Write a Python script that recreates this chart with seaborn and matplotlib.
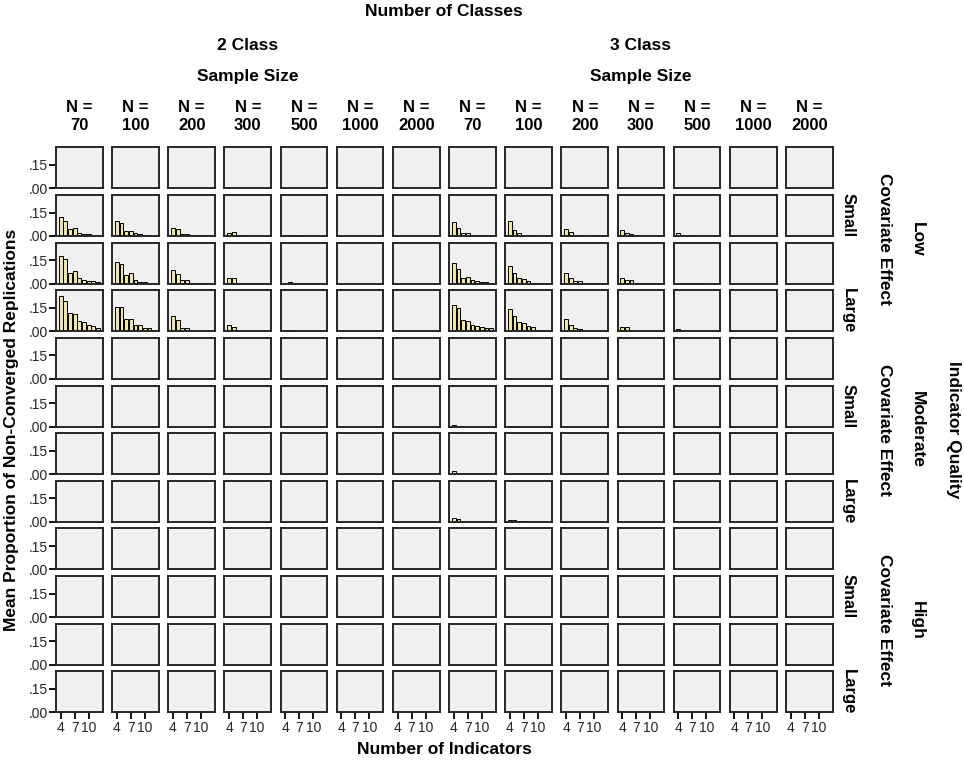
import matplotlib
matplotlib.use("Agg")
import matplotlib.pyplot as plt
import pandas as pd
import seaborn as sns

# ---------------- data ----------------
indicators = [4, 5, 6, 7, 8, 9, 10, 11, 12]
x_tick_values = [4, 7, 10]
x_tick_labels = ["4", "7", "10"]
y_tick_values = [0.0, 0.15]
y_tick_labels = [".00", ".15"]
sample_sizes = [70, 100, 200, 300, 500, 1000, 2000]
class_levels = ["2 Class", "3 Class"]
quality_levels = ["Low", "Moderate", "High"]
effect_levels = ["None", "Small", "Medium", "Large"]

# values per sample size (indicators 4..12); sample sizes not listed are 0
low_none_3class = {
    200: [0.003, 0.004, 0.002, 0.002, 0.001, 0.001, 0.0, 0.0, 0.0],
    300: [0.004, 0.003, 0.002, 0.001, 0.001, 0.0, 0.0, 0.0, 0.0],
    500: [0.004, 0.005, 0.003, 0.001, 0.001, 0.0, 0.0, 0.0, 0.0],
}
low_small_2class = {
    70: [0.120, 0.098, 0.043, 0.048, 0.020, 0.012, 0.010, 0.008, 0.005],
    100: [0.093, 0.080, 0.030, 0.030, 0.020, 0.010, 0.005, 0.003, 0.002],
    200: [0.054, 0.045, 0.012, 0.012, 0.003, 0.002, 0.002, 0.003, 0.002],
    300: [0.022, 0.028, 0.004, 0.008, 0.002, 0.001, 0.001, 0.001, 0.001],
    500: [0.006, 0.006, 0.003, 0.002, 0.001, 0.0, 0.0, 0.0, 0.0],
}
low_small_3class = {
    70: [0.089, 0.054, 0.022, 0.020, 0.008, 0.004, 0.003, 0.002, 0.002],
    100: [0.098, 0.037, 0.020, 0.008, 0.004, 0.003, 0.002, 0.002, 0.001],
    200: [0.043, 0.026, 0.008, 0.005, 0.002, 0.002, 0.001, 0.003, 0.001],
    300: [0.037, 0.020, 0.012, 0.006, 0.002, 0.002, 0.001, 0.001, 0.001],
    500: [0.017, 0.006, 0.003, 0.002, 0.001, 0.001, 0.0, 0.0, 0.0],
    1000: [0.002, 0.002, 0.001, 0.0, 0.0, 0.0, 0.0, 0.0, 0.0],
}
low_medium_2class = {
    70: [0.176, 0.157, 0.067, 0.083, 0.037, 0.024, 0.015, 0.015, 0.010],
    100: [0.137, 0.124, 0.054, 0.070, 0.024, 0.013, 0.008, 0.005, 0.004],
    200: [0.087, 0.060, 0.024, 0.024, 0.003, 0.003, 0.002, 0.002, 0.002],
    300: [0.039, 0.035, 0.005, 0.003, 0.003, 0.002, 0.002, 0.002, 0.002],
    500: [0.005, 0.008, 0.002, 0.002, 0.001, 0.001, 0.001, 0.001, 0.001],
}
low_medium_3class = {
    70: [0.132, 0.091, 0.039, 0.043, 0.022, 0.017, 0.012, 0.008, 0.006],
    100: [0.110, 0.067, 0.039, 0.028, 0.017, 0.005, 0.003, 0.002, 0.002],
    200: [0.067, 0.039, 0.017, 0.017, 0.003, 0.003, 0.002, 0.002, 0.002],
    300: [0.039, 0.024, 0.022, 0.002, 0.002, 0.001, 0.001, 0.001, 0.001],
    500: [0.005, 0.004, 0.002, 0.001, 0.001, 0.0, 0.0, 0.0, 0.0],
}
low_large_2class = {
    70: [0.228, 0.193, 0.120, 0.113, 0.065, 0.056, 0.039, 0.033, 0.022],
    100: [0.158, 0.156, 0.076, 0.076, 0.043, 0.039, 0.020, 0.018, 0.007],
    200: [0.100, 0.070, 0.022, 0.022, 0.003, 0.003, 0.002, 0.002, 0.002],
    300: [0.043, 0.030, 0.002, 0.002, 0.001, 0.001, 0.001, 0.001, 0.001],
    500: [0.008, 0.010, 0.002, 0.001, 0.001, 0.001, 0.0, 0.0, 0.0],
}
low_large_3class = {
    70: [0.165, 0.150, 0.074, 0.065, 0.039, 0.033, 0.028, 0.022, 0.022],
    100: [0.141, 0.100, 0.059, 0.050, 0.033, 0.028, 0.010, 0.005, 0.003],
    200: [0.080, 0.037, 0.020, 0.015, 0.003, 0.003, 0.002, 0.002, 0.002],
    300: [0.028, 0.028, 0.008, 0.002, 0.001, 0.001, 0.001, 0.001, 0.001],
    500: [0.017, 0.002, 0.001, 0.001, 0.0, 0.0, 0.0, 0.0, 0.0],
}
moderate_small_3class = {
    70: [0.012, 0.002, 0.001, 0.0, 0.0, 0.0, 0.0, 0.0, 0.0],
    100: [0.004, 0.001, 0.0, 0.0, 0.0, 0.0, 0.0, 0.0, 0.0],
}
moderate_medium_3class = {
    70: [0.020, 0.006, 0.002, 0.001, 0.0, 0.0, 0.0, 0.0, 0.0],
    100: [0.004, 0.001, 0.0, 0.0, 0.0, 0.0, 0.0, 0.0, 0.0],
}
moderate_large_3class = {
    70: [0.025, 0.020, 0.004, 0.001, 0.0, 0.0, 0.0, 0.0, 0.0],
    100: [0.012, 0.012, 0.008, 0.002, 0.0, 0.0, 0.0, 0.0, 0.0],
}

panel_values = {
    ("Low", "None", "3 Class"): low_none_3class,
    ("Low", "Small", "2 Class"): low_small_2class,
    ("Low", "Small", "3 Class"): low_small_3class,
    ("Low", "Medium", "2 Class"): low_medium_2class,
    ("Low", "Medium", "3 Class"): low_medium_3class,
    ("Low", "Large", "2 Class"): low_large_2class,
    ("Low", "Large", "3 Class"): low_large_3class,
    ("Moderate", "Small", "3 Class"): moderate_small_3class,
    ("Moderate", "Medium", "3 Class"): moderate_medium_3class,
    ("Moderate", "Large", "3 Class"): moderate_large_3class,
}

records = []
for q in quality_levels:
    for e in effect_levels:
        for c in class_levels:
            d = panel_values.get((q, e, c), {})
            for n in sample_sizes:
                vals = d.get(n, [0.0] * len(indicators))
                for ind, v in zip(indicators, vals):
                    records.append(dict(quality=q, effect=e, classes=c, n=n,
                                        indicators=ind, value=v))
df = pd.DataFrame(records)

# ---------------- style ----------------
sns.set_theme(style="white")
plt.rcParams["font.family"] = ["Liberation Sans", "DejaVu Sans"]
plt.rcParams["text.color"] = "black"

W, H = 964, 765
fig = plt.figure(figsize=(W / 100, H / 100), dpi=100)
fig.patch.set_facecolor("white")

def fx(px):
    return px / W

def fy(py):
    return 1 - py / H

col_left0, col_pitch, pan_w = 56.0, 56.15, 46.7
row_top0, row_pitch, pan_h = 147.3, 47.64, 41.0

bar_color = "#EEE6A8"
frame_color = "#262626"
face_color = "#F0F0F0"

TITLE_FS = 12.5
HEAD_FS = 12
TICK_FS = 10

n_rows = len(quality_levels) * len(effect_levels)
n_cols = len(class_levels) * len(sample_sizes)

for qi, q in enumerate(quality_levels):
    for ei, e in enumerate(effect_levels):
        r = qi * len(effect_levels) + ei
        for ci, c in enumerate(class_levels):
            for ni, n in enumerate(sample_sizes):
                col = ci * len(sample_sizes) + ni
                left = col_left0 + col * col_pitch
                top = row_top0 + r * row_pitch
                ax = fig.add_axes([fx(left), fy(top + pan_h), pan_w / W, pan_h / H])
                sub = df[(df.quality == q) & (df.effect == e) &
                         (df.classes == c) & (df.n == n)]
                sns.barplot(data=sub, x="indicators", y="value", native_scale=True,
                            color=bar_color, saturation=1, width=0.8,
                            edgecolor="black", linewidth=0.7, errorbar=None, ax=ax)
                ax.set_facecolor(face_color)
                ax.set_xlim(3, 13)
                ax.set_ylim(0, 0.263)
                ax.set_xlabel("")
                ax.set_ylabel("")
                for s in ax.spines.values():
                    s.set_visible(True)
                    s.set_color(frame_color)
                    s.set_linewidth(1.4)
                if col == 0:
                    ax.set_yticks(y_tick_values)
                    ax.set_yticklabels(y_tick_labels, fontsize=TICK_FS)
                    ax.tick_params(axis="y", left=True, length=5, width=1.3,
                                   direction="out", pad=0.5, color="black")
                else:
                    ax.set_yticks([])
                if r == n_rows - 1:
                    ax.set_xticks(x_tick_values)
                    ax.set_xticklabels(x_tick_labels, fontsize=TICK_FS)
                    ax.tick_params(axis="x", bottom=True, length=5, width=1.3,
                                   direction="out", pad=1.5, color="black")
                else:
                    ax.set_xticks([])

# ---------------- header texts ----------------
bold = dict(fontweight="bold", color="black")
grid_cx = (col_left0 + (col_left0 + (n_cols - 1) * col_pitch + pan_w)) / 2
fig.text(fx(grid_cx), fy(12), "Number of Classes", ha="center", va="center",
         fontsize=TITLE_FS, **bold)
for ci, c in enumerate(class_levels):
    l = col_left0 + ci * len(sample_sizes) * col_pitch
    rgt = col_left0 + ((ci + 1) * len(sample_sizes) - 1) * col_pitch + pan_w
    cx = (l + rgt) / 2
    fig.text(fx(cx), fy(46), c, ha="center", va="center", fontsize=TITLE_FS, **bold)
    fig.text(fx(cx), fy(77), "Sample Size", ha="center", va="center",
             fontsize=TITLE_FS, **bold)
    for ni, n in enumerate(sample_sizes):
        col = ci * len(sample_sizes) + ni
        x = col_left0 + col * col_pitch + pan_w / 2
        fig.text(fx(x), fy(108), "N =", ha="center", va="center",
                 fontsize=HEAD_FS, **bold)
        fig.text(fx(x), fy(125), str(n), ha="center", va="center",
                 fontsize=HEAD_FS, **bold)

# ---------------- row labels ----------------
for qi, q in enumerate(quality_levels):
    block_top = row_top0 + qi * len(effect_levels) * row_pitch
    block_bot = row_top0 + ((qi + 1) * len(effect_levels) - 1) * row_pitch + pan_h
    cy = (block_top + block_bot) / 2
    for ei, e in enumerate(effect_levels):
        if ei % 2 == 1:
            r = qi * len(effect_levels) + ei
            y = row_top0 + r * row_pitch + pan_h / 2
            fig.text(fx(848), fy(y), e, rotation=270, ha="center", va="center",
                     fontsize=HEAD_FS, **bold)
    fig.text(fx(884), fy(cy), "Covariate Effect", rotation=270, ha="center",
             va="center", fontsize=TITLE_FS, **bold)
    fig.text(fx(917), fy(cy), q, rotation=270, ha="center", va="center",
             fontsize=TITLE_FS, **bold)

grid_cy = (row_top0 + row_top0 + (n_rows - 1) * row_pitch + pan_h) / 2
fig.text(fx(953), fy(grid_cy), "Indicator Quality", rotation=270, ha="center",
         va="center", fontsize=TITLE_FS, **bold)
fig.text(fx(12), fy(grid_cy), "Mean Proportion of Non-Converged Replications",
         rotation=90, ha="center", va="center", fontsize=TITLE_FS, **bold)
fig.text(fx(grid_cx), fy(750), "Number of Indicators", ha="center", va="center",
         fontsize=TITLE_FS, **bold)

fig.savefig("out.png", dpi=100, facecolor="white")
